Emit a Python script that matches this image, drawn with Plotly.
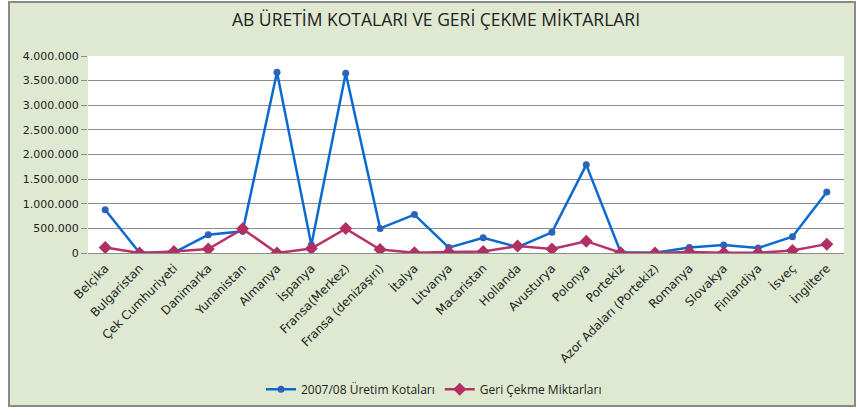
import plotly.graph_objects as go

categories = ["Belçika", "Bulgaristan", "Çek Cumhuriyeti", "Danimarka", "Yunanistan",
              "Almanya", "İspanya", "Fransa(Merkez)", "Fransa (denizaşırı)", "İtalya",
              "Litvanya", "Macaristan", "Hollanda", "Avusturya", "Polonya", "Portekiz",
              "Azor Adaları (Portekiz)", "Romanya", "Slovakya", "Finlandiya", "İsveç", "İngiltere"]

uretim_kotalari = [880000, 5000, 10000, 370000, 440000, 3670000, 160000, 3650000, 500000,
                   780000, 110000, 310000, 120000, 420000, 1790000, 15000, 5000, 110000,
                   160000, 100000, 330000, 1240000]

geri_cekme = [110000, 0, 30000, 80000, 490000, 0, 90000, 495000, 70000, 5000, 20000, 30000,
              140000, 80000, 240000, 5000, 2000, 20000, 3000, 3000, 50000, 180000]

y_ticks = [0, 500000, 1000000, 1500000, 2000000, 2500000, 3000000, 3500000, 4000000]

W, H = 859, 415
L, R, T, B = 88, 15, 56, 158
pw, ph = W - L - R, H - T - B

def px_x(x):
    return (x - L) / pw

def px_y(y):
    return (H - B - y) / ph

fig = go.Figure()
fig.add_trace(go.Scatter(
    x=categories, y=uretim_kotalari, name="2007/08 Üretim Kotaları",
    mode="lines+markers",
    line=dict(color="#0a6ad0", width=2.5),
    marker=dict(symbol="circle", size=7, color="#2c62b8"),
))
fig.add_trace(go.Scatter(
    x=categories, y=geri_cekme, name="Geri Çekme Miktarları",
    mode="lines+markers",
    line=dict(color="#b6336a", width=2.5),
    marker=dict(symbol="diamond", size=10, color="#b02f64"),
))

# green chart box with grey border
fig.add_shape(type="rect", xref="paper", yref="paper", layer="below",
              x0=px_x(9), x1=px_x(855), y0=px_y(413), y1=px_y(1),
              fillcolor="#dfe9d1", line=dict(color="#8a8a8a", width=2))
# white plot area
fig.add_shape(type="rect", xref="paper", yref="paper", layer="below",
              x0=0, x1=1, y0=0, y1=1,
              fillcolor="white", line=dict(width=0))

fig.update_layout(
    width=W, height=H,
    margin=dict(l=L, r=R, t=T, b=B),
    paper_bgcolor="white",
    plot_bgcolor="rgba(0,0,0,0)",
    separators=",.",
    font=dict(family="DejaVu Sans", size=11, color="#222222"),
    title=dict(text="AB ÜRETİM KOTALARI VE GERİ ÇEKME MİKTARLARI",
               x=436 / W, xanchor="center", y=1 - 20 / H, yanchor="middle",
               font=dict(family="Open Sans", size=17.5, color="#222222")),
    showlegend=True,
    legend=dict(orientation="h", x=px_x(434), xanchor="center", y=px_y(396), yanchor="middle",
                font=dict(family="Open Sans", size=12, color="#222222"),
                bgcolor="rgba(0,0,0,0)", itemwidth=30),
    hovermode=False,
)
fig.update_xaxes(type="category", tickangle=-45, showgrid=False, ticks="",
                 showline=False, tickfont=dict(family="DejaVu Sans", size=12),
                 ticklabelstandoff=5,
                 range=[-0.5, len(categories) - 0.5])
fig.update_yaxes(range=[0, 4000000], tickvals=y_ticks, tickformat=",d",
                 showgrid=True, gridcolor="#8c8c8c", gridwidth=1,
                 zeroline=True, zerolinecolor="#8c8c8c", zerolinewidth=1,
                 ticks="outside", ticklen=6, tickcolor="#8c8c8c",
                 tickfont=dict(family="DejaVu Sans", size=11))

post = (
    "document.documentElement.style.cssText='margin:0;padding:0;overflow:hidden;height:415px;width:859px;';"
    "document.body.style.cssText='margin:0;padding:0;overflow:hidden;height:415px;width:859px;line-height:0;';"
)
fig.write_html("out.html", config={"displayModeBar": False}, post_script=post)
